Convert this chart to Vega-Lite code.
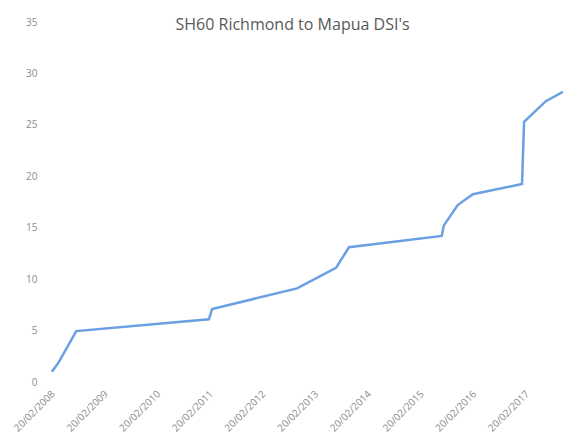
{
  "$schema": "https://vega.github.io/schema/vega-lite/v6.json",
  "autosize": "none",
  "width": 513,
  "height": 360,
  "padding": {"left": 50, "top": 22, "right": 0, "bottom": 53},
  "background": "white",
  "title": {
    "text": "SH60 Richmond to Mapua DSI's",
    "font": "Open Sans",
    "fontSize": 16,
    "fontWeight": "normal",
    "color": "#595959",
    "anchor": "middle",
    "dx": -14,
    "dy": 24,
    "baseline": "alphabetic",
    "offset": -5
  },
  "data": {
    "values": [
      {"date": "2008-02-12", "dsi": 1.0},
      {"date": "2008-04-01", "dsi": 1.95},
      {"date": "2008-07-30", "dsi": 4.95},
      {"date": "2011-02-05", "dsi": 6.1},
      {"date": "2011-02-27", "dsi": 7.1},
      {"date": "2012-10-08", "dsi": 9.1},
      {"date": "2013-07-05", "dsi": 11.1},
      {"date": "2013-10-03", "dsi": 13.1},
      {"date": "2015-07-08", "dsi": 14.2},
      {"date": "2015-07-22", "dsi": 15.2},
      {"date": "2015-10-27", "dsi": 17.2},
      {"date": "2016-02-09", "dsi": 18.25},
      {"date": "2017-01-15", "dsi": 19.25},
      {"date": "2017-01-29", "dsi": 25.3},
      {"date": "2017-06-29", "dsi": 27.3},
      {"date": "2017-10-26", "dsi": 28.2}
    ]
  },
  "mark": {"type": "line", "color": "#6a9fe3", "strokeWidth": 2.5, "clip": true},
  "encoding": {
    "x": {
      "field": "date",
      "type": "temporal",
      "scale": {"domain": ["2008-01-30", "2017-10-26"], "nice": false},
      "axis": {
        "title": null,
        "grid": false,
        "domain": false,
        "ticks": false,
        "values": [
          {"year": 2008, "month": 2, "date": 20},
          {"year": 2009, "month": 2, "date": 20},
          {"year": 2010, "month": 2, "date": 20},
          {"year": 2011, "month": 2, "date": 20},
          {"year": 2012, "month": 2, "date": 20},
          {"year": 2013, "month": 2, "date": 20},
          {"year": 2014, "month": 2, "date": 20},
          {"year": 2015, "month": 2, "date": 20},
          {"year": 2016, "month": 2, "date": 20},
          {"year": 2017, "month": 2, "date": 20}
        ],
        "format": "%d/%m/%Y",
        "labelAngle": -45,
        "labelAlign": "right",
        "labelBaseline": "middle",
        "labelPadding": 10,
        "labelFont": "Open Sans",
        "labelFontSize": 10,
        "labelColor": "#8c8c8c",
        "labelOverlap": false,
        "labelFlush": false,
        "labelBound": false
      }
    },
    "y": {
      "field": "dsi",
      "type": "quantitative",
      "scale": {"domain": [0, 35], "nice": false},
      "axis": {
        "title": null,
        "grid": false,
        "domain": false,
        "ticks": false,
        "values": [0, 5, 10, 15, 20, 25, 30, 35],
        "labelPadding": 13,
        "labelFont": "Open Sans",
        "labelFontSize": 10,
        "labelColor": "#8c8c8c"
      }
    }
  },
  "config": {"view": {"stroke": null}}
}
